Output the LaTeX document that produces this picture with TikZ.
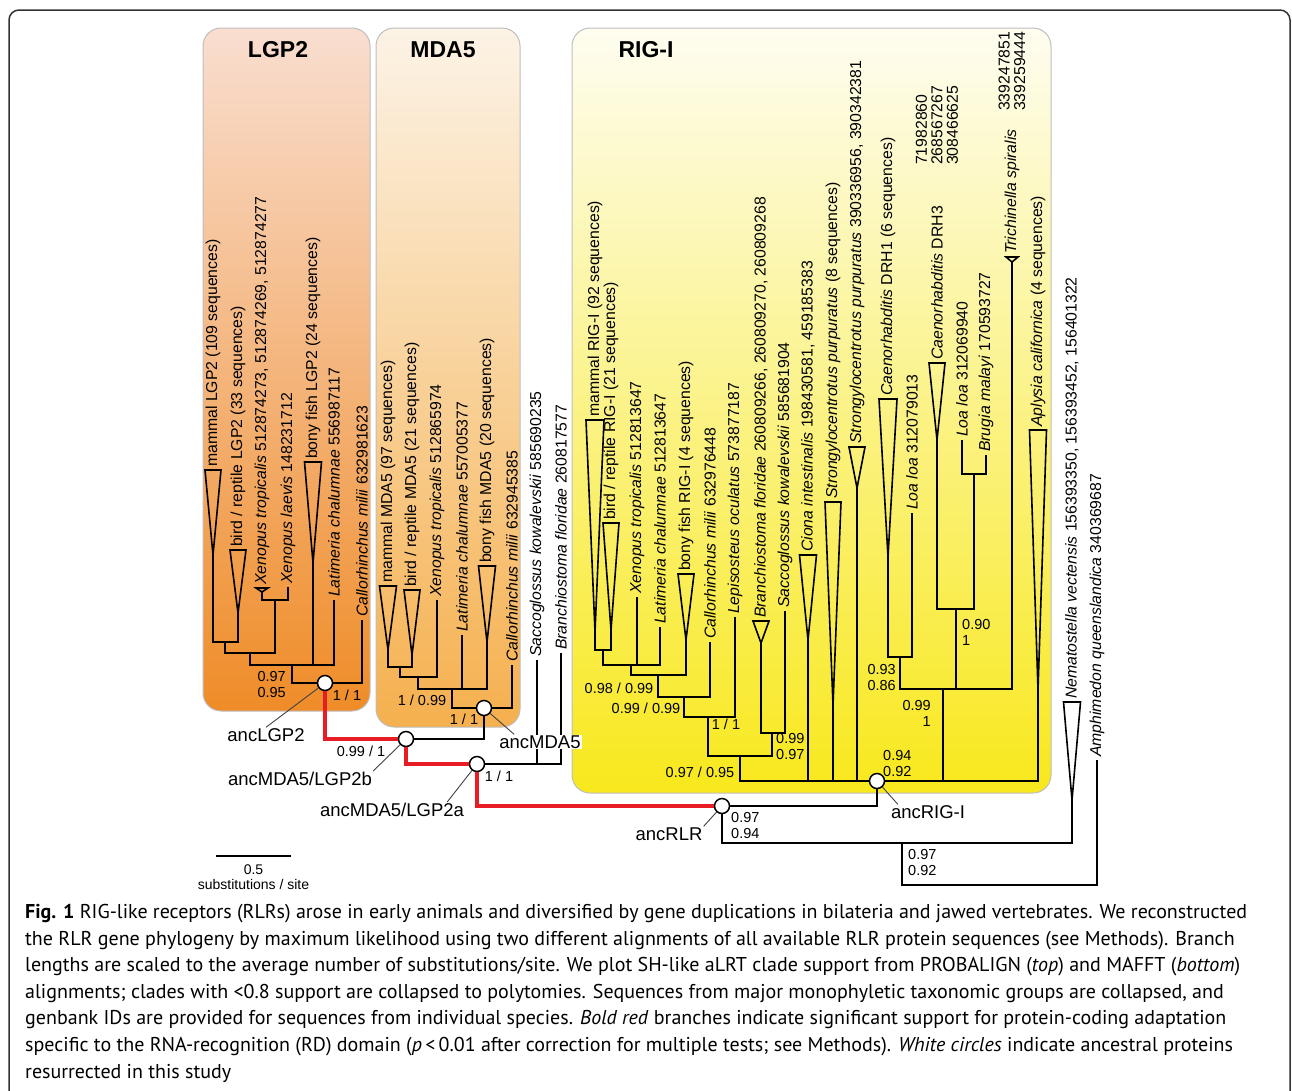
\documentclass[tikz,border=0pt]{standalone}
\usepackage{fontspec}
\setmainfont{Liberation Sans}
\newfontfamily\capfont{PT Sans}
\usetikzlibrary{positioning}

\definecolor{lgpTop}{RGB}{249,222,208}
\definecolor{lgpMid}{RGB}{246,188,142}
\definecolor{lgpBot}{RGB}{239,140,40}
\definecolor{mdaTop}{RGB}{252,243,230}
\definecolor{mdaMid}{RGB}{249,214,160}
\definecolor{mdaBot}{RGB}{245,176,78}
\definecolor{rigTop}{RGB}{254,253,240}
\definecolor{rigMid}{RGB}{251,243,140}
\definecolor{rigBot}{RGB}{248,232,28}
\definecolor{selRed}{RGB}{232,28,36}
\definecolor{panelEdge}{RGB}{190,190,190}

\tikzset{
  branch/.style={line width=2pt},
  selected/.style={line width=4pt, selRed},
  tri/.style={line width=1.6pt, line join=miter},
  leaf/.style={rotate=90, anchor=west, inner sep=3pt, font=\fontsize{15.8}{15.5}\selectfont},
  ids/.style={leaf, align=left},
  support/.style={inner sep=0pt, font=\fontsize{14.5}{16}\selectfont},
  anc/.style={circle, draw, fill=white, line width=1.5pt, minimum size=15pt, inner sep=0pt},
  ancname/.style={inner sep=1pt, font=\fontsize{18.5}{20}\selectfont},
  pointer/.style={line width=0.9pt, black!75},
  panel/.style={draw=panelEdge, line width=1pt, rounded corners=18pt},
  title/.style={font=\bfseries\fontsize{23}{23}\selectfont},
}

% collapsed clade: name, apex, height, half width, label
\newcommand{\clade}[5]{%
  \coordinate (#1) at (#2);
  \draw[tri] (#1) -- ++(-#4,-#3) -- ++(2*#4,0) -- cycle;
  \node[leaf] (#1L) at ([yshift=#3pt]#1) {#5};
}
% single sequence: name, tip, label
\newcommand{\seqtip}[3]{%
  \coordinate (#1) at (#2);
  \node[leaf] (#1L) at (#1) {#3};
}

\begin{document}
\begin{tikzpicture}[x=1pt, y=-1pt]
    \useasboundingbox (0,0) rectangle (1292,1090);
    \draw[line width=1.5pt, black!80, rounded corners=10pt] (9,1130) -- (9,10) -- (1290,10) -- (1290,1130);

    % panels
    \shade[rounded corners=18pt, top color=lgpTop, middle color=lgpMid, bottom color=lgpBot] (203,28) rectangle (370,711);
    \draw[panel] (203,28) rectangle (370,711);
    \shade[rounded corners=18pt, top color=mdaTop, middle color=mdaMid, bottom color=mdaBot] (376,28) rectangle (520,727);
    \draw[panel] (376,28) rectangle (520,727);
    \shade[rounded corners=18pt, top color=rigTop, middle color=rigMid, bottom color=rigBot] (572,28) rectangle (1051,793);
    \draw[panel] (572,28) rectangle (1051,793);

    \node[title] (tLGP) at (278,50) {LGP2};
    \node[title] (tMDA) at (443,50) {MDA5};
    \node[title] (tRIG) at (646,50) {RIG-I};

    % LGP2
    \clade{lgpMam}{213,555}{85}{8}{mammal LGP2 (109 sequences)}
    \clade{lgpBird}{238,613}{63}{8}{bird / reptile LGP2 (33 sequences)}
    \clade{lgpXtr}{262,592}{4}{6}{\textit{Xenopus tropicalis} 512874273, 512874269, 512874277}
    \seqtip{lgpXla}{288,587}{\textit{Xenopus laevis} 148231712}
    \clade{lgpFish}{313,563}{101}{8.5}{bony fish LGP2 (24 sequences)}
    \seqtip{lgpLat}{334,600}{\textit{Latimeria chalumnae} 556987117}
    \seqtip{lgpCal}{362,620}{\textit{Callorhinchus milii} 632981623}

    % MDA5
    \clade{mdaMam}{388,650}{64}{8.5}{mammal MDA5 (97 sequences)}
    \clade{mdaBird}{412,655}{65}{8}{bird / reptile MDA5 (21 sequences)}
    \seqtip{mdaXtr}{437,600}{\textit{Xenopus tropicalis} 512865974}
    \seqtip{mdaLat}{462,635}{\textit{Latimeria chalumnae} 557005377}
    \clade{mdaFish}{487,642}{76}{8.5}{bony fish MDA5 (20 sequences)}
    \seqtip{mdaCal}{512,665}{\textit{Callorhinchus milii} 632945385}

    \seqtip{sacco}{537,660}{\textit{Saccoglossus kowalevskii} 585690235}
    \seqtip{branchio}{561,653}{\textit{Branchiostoma floridae} 260817577}

    % RIG-I
    \clade{rigMam}{595,632}{212}{9}{mammal RIG-I (92 sequences)}
    \clade{rigBird}{611,630}{107}{8}{bird / reptile RIG-I (21 sequences)}
    \seqtip{rigXtr}{637,597}{\textit{Xenopus tropicalis} 512813647}
    \seqtip{rigLat}{660,627}{\textit{Latimeria chalumnae} 512813647}
    \clade{rigFish}{686,640}{66}{8}{bony fish RIG-I (4 sequences)}
    \seqtip{rigCal}{710,642}{\textit{Callorhinchus milii} 632976448}
    \seqtip{rigLep}{735,617}{\textit{Lepisosteus oculatus} 573877187}
    \clade{rigBra}{761,643}{22}{8}{\textit{Branchiostoma floridae} 260809266, 260809270, 260809268}
    \seqtip{rigSac}{785,611}{\textit{Saccoglossus kowalevskii} 585681904}
    \clade{rigCio}{808,640}{85}{8.5}{\textit{Ciona intestinalis} 198430581, 459185383}
    \clade{rigStA}{833,705}{203}{8}{\textit{Strongylocentrotus purpuratus} (8 sequences)}
    \clade{rigStB}{857,488}{41}{8}{\textit{Strongylocentrotus purpuratus} 390336956, 390342381}
    \clade{rigDrhA}{888,557}{158}{9}{\textit{Caenorhabditis} DRH1 (6 sequences)}
    \seqtip{rigLoaA}{912,513}{\textit{Loa loa} 312079013}
    \clade{rigDrhB}{937,440}{77}{8}{\textit{Caenorhabditis} DRH3}
    \node[ids] (rigDrhBid) at (937,168) {71982860\\268567267\\308466625};
    \seqtip{rigLoaB}{962,440}{\textit{Loa loa} 312069940}
    \seqtip{rigBru}{986,455}{\textit{Brugia malayi} 170593727}
    \clade{rigTri}{1012,262}{5}{6}{\textit{Trichinella spiralis}}
    \node[ids] (rigTriid) at (1012,114) {339247851\\339259444};
    \clade{rigAply}{1038,690}{260}{8.5}{\textit{Aplysia californica} (4 sequences)}

    % outgroups
    \clade{nemato}{1072,800}{98}{8.5}{\textit{Nematostella vectensis} 156393350, 156393452, 156401322}
    \seqtip{amphi}{1097,760}{\textit{Amphimedon queenslandica} 340369687}

    % inner nodes
    \coordinate (lgpA) at (225,642);
    \coordinate (lgpX) at (275,600);
    \coordinate (lgpB) at (250,653);
    \coordinate (lgpC) at (292,665);
    \coordinate (mdaA) at (400,667);
    \coordinate (mdaB) at (418,677);
    \coordinate (mdaC) at (452,689);
    \coordinate (rigA) at (603,650);
    \coordinate (rigB) at (631,665);
    \coordinate (rigC) at (658,675);
    \coordinate (rigD) at (684,697);
    \coordinate (rigE) at (708,717);
    \coordinate (rigF) at (772,733);
    \coordinate (rigG) at (740,756);
    \coordinate (nemA) at (974,474);
    \coordinate (nemB) at (956,609);
    \coordinate (nemC) at (900,657);
    \coordinate (nemD) at (943,689);
    \coordinate (outA) at (902,843);
    \coordinate (root) at (1000,885);

    % resurrected ancestors
    \node[anc] (ancLGP2) at (325,683) {};
    \node[anc] (ancMDA5) at (484,708) {};
    \node[anc] (ancB) at (406,739) {};
    \node[anc] (ancA) at (477,764) {};
    \node[anc] (ancRLR) at (722,806) {};
    \node[anc] (ancRIG) at (877,781) {};

    % branches
    \draw[branch] (lgpMam) |- (lgpA) -| (lgpBird);
    \draw[branch] (lgpXtr) |- (lgpX) -| (lgpXla);
    \draw[branch] (lgpA) |- (lgpB) -| (lgpX);
    \draw[branch] (lgpB) |- (lgpC) -| (lgpLat) (lgpFish) -- (lgpFish |- lgpC);
    \draw[branch] (lgpC) |- (ancLGP2) -| (lgpCal);

    \draw[branch] (mdaMam) |- (mdaA) -| (mdaBird);
    \draw[branch] (mdaA) |- (mdaB) -| (mdaXtr);
    \draw[branch] (mdaB) |- (mdaC) -| (mdaFish) (mdaLat) -- (mdaLat |- mdaC);
    \draw[branch] (mdaC) |- (ancMDA5) -| (mdaCal);

    \draw[branch] (ancB) -| (ancMDA5);
    \draw[branch] (ancA) -| (branchio) (sacco) -- (sacco |- ancA);
    \draw[branch] (ancRLR) -| (ancRIG);

    \draw[branch] (rigMam) |- (rigA) -| (rigBird);
    \draw[branch] (rigA) |- (rigB) -| (rigLat) (rigXtr) -- (rigXtr |- rigB);
    \draw[branch] (rigB) |- (rigC) -| (rigFish);
    \draw[branch] (rigC) |- (rigD) -| (rigCal);
    \draw[branch] (rigD) |- (rigE) -| (rigLep);
    \draw[branch] (rigBra) |- (rigF) -| (rigSac);
    \draw[branch] (rigE) |- (rigG) -| (rigF);
    \draw[branch] (rigLoaB) |- (nemA) -| (rigBru);
    \draw[branch] (rigDrhB) |- (nemB) -| (nemA);
    \draw[branch] (rigDrhA) |- (nemC) -| (rigLoaA);
    \draw[branch] (nemC) |- (nemD) -| (rigTri) (nemB) -- (nemB |- nemD);
    \draw[branch] (rigG) |- (ancRIG) -| (rigAply);
    \draw[branch] (rigCio) -- (rigCio |- ancRIG) (rigStA) -- (rigStA |- ancRIG)
        (rigStB) -- (rigStB |- ancRIG) (nemD) -- (nemD |- ancRIG);

    \draw[branch] (ancRLR) |- (outA) -| (nemato);
    \draw[branch] (outA) |- (root) -| (amphi);

    % adaptive branches
    \draw[selected] (ancLGP2) |- (ancB);
    \draw[selected] (ancB) |- (ancA);
    \draw[selected] (ancA) |- (ancRLR);

    % support values
    \node[support, align=right, anchor=east] (s1) at (286,684) {0.97\\0.95};
    \node[support] (s2) at (347,695) {1 / 1};
    \node[support] (s3) at (422,700) {1 / 0.99};
    \node[support] (s4) at (464,719) {1 / 1};
    \node[support] (s5) at (361,751) {0.99 / 1};
    \node[support] (s6) at (499,776) {1 / 1};
    \node[support, align=left, anchor=west] (s7) at (731,825) {0.97\\0.94};
    \node[support, align=left, anchor=west] (s8) at (908,862) {0.97\\0.92};
    \node[support] (s9) at (619,688) {0.98 / 0.99};
    \node[support] (s10) at (646,708) {0.99 / 0.99};
    \node[support] (s11) at (726,724) {1 / 1};
    \node[support, align=left, anchor=west] (s12) at (776,746) {0.99\\0.97};
    \node[support] (s13) at (700,772) {0.97 / 0.95};
    \node[support, align=left, anchor=west] (s14) at (883,763) {0.94\\0.92};
    \node[support, align=right, anchor=east] (s15) at (896,677) {0.93\\0.86};
    \node[support, align=right, anchor=east] (s16) at (931,713) {0.99\\1};
    \node[support, align=left, anchor=west] (s17) at (962,632) {0.90\\1};

    % ancestor names
    \node[ancname] (ancLGP2L) at (266,735) {ancLGP2};
    \node[ancname] (ancBL) at (300,779) {ancMDA5/LGP2b};
    \node[ancname] (ancAL) at (392,810) {ancMDA5/LGP2a};
    \node[ancname, fill=white] (ancMDA5L) at (540,742) {ancMDA5};
    \node[ancname] (ancRIGL) at (928,812) {ancRIG-I};
    \node[ancname] (ancRLRL) at (669,834) {ancRLR};

    \draw[pointer] (ancLGP2L.north) -- (ancLGP2);
    \draw[pointer] (ancBL.north east) -- (ancB);
    \draw[pointer] ([xshift=-18pt]ancAL.north east) -- (ancA);
    \draw[pointer] ([xshift=16pt]ancMDA5L.north west) -- (ancMDA5);
    \draw[pointer] ([xshift=8pt]ancRIGL.north west) -- (ancRIG);
    \draw[pointer] (ancRLRL.north east) -- (ancRLR);

    % scale bar
    \coordinate (sbL) at (216,856);
    \coordinate (sbR) at (291,856);
    \coordinate (sbMid) at (253.5,856);
    \draw[branch] (sbL) -- (sbR);
    \node[align=center, inner sep=0pt, font=\fontsize{14}{14.5}\selectfont] (sbLabel) [below=9pt of sbMid] {0.5\\substitutions / site};

    % caption
    \node[anchor=north west, inner sep=0pt, align=left, font=\capfont\fontsize{20}{26.6}\selectfont] (caption) at (25,904)
    {\textbf{Fig. 1} RIG-like receptors (RLRs) arose in early animals and diversified by gene duplications in bilateria and jawed vertebrates. We reconstructed\\
    the RLR gene phylogeny by maximum likelihood using two different alignments of all available RLR protein sequences (see Methods). Branch\\
    lengths are scaled to the average number of substitutions/site. We plot SH-like aLRT clade support from PROBALIGN (\textit{top}) and MAFFT (\textit{bottom})\\
    alignments; clades with <0.8 support are collapsed to polytomies. Sequences from major monophyletic taxonomic groups are collapsed, and\\
    genbank IDs are provided for sequences from individual species. \textit{Bold red} branches indicate significant support for protein-coding adaptation\\
    specific to the RNA-recognition (RD) domain (\textit{p}\,<\,0.01 after correction for multiple tests; see Methods). \textit{White circles} indicate ancestral proteins\\
    resurrected in this study};
\end{tikzpicture}
\end{document}
